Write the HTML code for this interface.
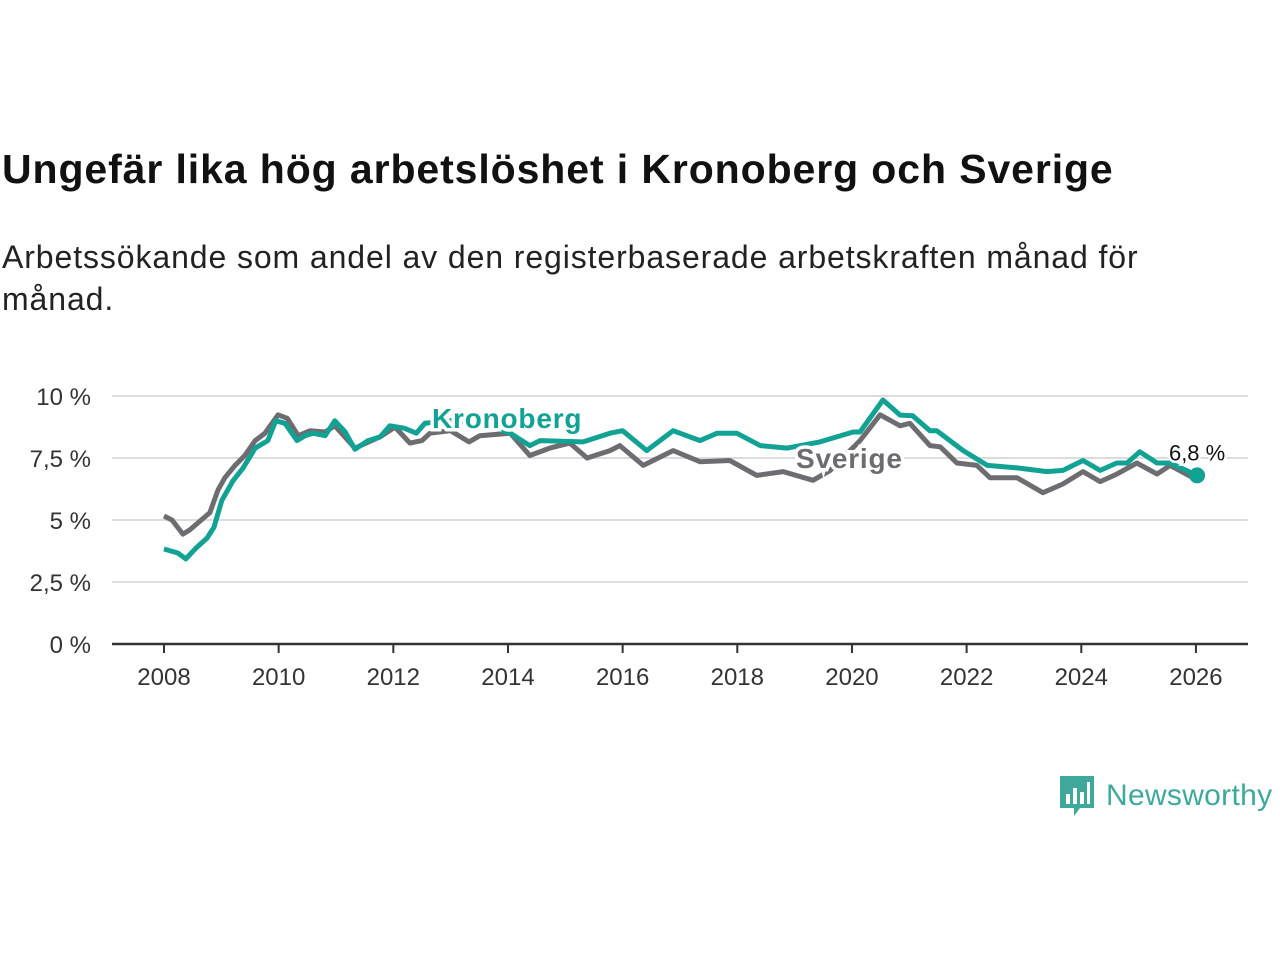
<!DOCTYPE html>
<html><head><meta charset="utf-8">
<style>
body{margin:0;width:1280px;height:960px;background:#fff;font-family:"Liberation Sans",sans-serif;overflow:hidden;position:relative}
#title{position:absolute;left:2px;top:146px;font-size:41px;font-weight:bold;color:#111;margin:0;letter-spacing:0.9px}
#sub{position:absolute;left:2px;top:236px;font-size:32px;color:#222;line-height:42px;width:1175px;letter-spacing:0.9px}
svg{position:absolute;left:0;top:0}
</style></head><body>
<h1 id="title">Ungefär lika hög arbetslöshet i Kronoberg och Sverige</h1>
<div id="sub">Arbetssökande som andel av den registerbaserade arbetskraften månad för månad.</div>
<svg id="chart" width="1280" height="960"></svg>
<div style="position:absolute;left:1060px;top:774px;display:flex;align-items:center">
<svg width="34" height="44" style="position:static"><path d="M0 2h34v32H20l-6 8v-8H0z" fill="#3ea89b"/><rect x="6" y="20" width="4" height="10" fill="#fff"/><rect x="13" y="14" width="4" height="16" fill="#fff"/><rect x="20" y="18" width="4" height="12" fill="#fff"/><rect x="27" y="8" width="3" height="22" fill="#fff"/></svg>
<span style="font-size:30px;color:#3ea89b;margin-left:12px;letter-spacing:0.3px">Newsworthy</span></div>
<script>
const yTicks=[0,2.5,5,7.5,10];
const yTickLabels=["0 %","2,5 %","5 %","7,5 %","10 %"];
const xTicks=[2008,2010,2012,2014,2016,2018,2020,2022,2024,2026];
const kronYears=[2008.0,2008.24,2008.38,2008.56,2008.75,2008.87,2009.01,2009.2,2009.38,2009.59,2009.81,2009.95,2010.11,2010.32,2010.46,2010.6,2010.81,2010.98,2011.16,2011.33,2011.56,2011.77,2011.94,2012.19,2012.4,2012.55,2013.0,2013.5,2014.04,2014.38,2014.56,2015.31,2015.78,2016.0,2016.42,2016.88,2017.35,2017.65,2017.99,2018.4,2018.87,2019.44,2020.02,2020.14,2020.54,2020.84,2021.06,2021.36,2021.48,2021.94,2022.36,2022.88,2023.4,2023.68,2024.03,2024.33,2024.62,2024.8,2025.02,2025.32,2025.55,2026.02];
const kronValues=[3.83,3.67,3.43,3.87,4.27,4.7,5.8,6.57,7.1,7.9,8.2,9.0,8.9,8.2,8.4,8.5,8.4,9.0,8.55,7.85,8.2,8.35,8.8,8.7,8.5,8.9,9.0,8.9,8.5,8.0,8.2,8.15,8.5,8.6,7.8,8.6,8.2,8.5,8.5,8.0,7.9,8.15,8.55,8.55,9.84,9.23,9.2,8.6,8.6,7.8,7.2,7.1,6.95,7.0,7.4,7.0,7.3,7.3,7.75,7.3,7.3,6.8];
const sveYears=[2008.0,2008.14,2008.33,2008.45,2008.63,2008.8,2008.94,2009.06,2009.24,2009.41,2009.59,2009.76,2009.99,2010.15,2010.34,2010.55,2010.81,2010.98,2011.33,2011.77,2012.03,2012.29,2012.5,2012.64,2013.0,2013.32,2013.51,2014.04,2014.38,2014.73,2015.08,2015.38,2015.78,2015.95,2016.36,2016.88,2017.35,2017.87,2018.34,2018.8,2019.32,2019.62,2020.14,2020.49,2020.84,2021.01,2021.36,2021.54,2021.83,2022.18,2022.41,2022.88,2023.33,2023.68,2024.03,2024.33,2024.62,2024.97,2025.32,2025.55,2025.95];
const sveValues=[5.16,5.0,4.43,4.6,4.96,5.3,6.2,6.7,7.2,7.6,8.2,8.5,9.24,9.1,8.4,8.6,8.55,8.8,7.9,8.35,8.75,8.1,8.2,8.5,8.6,8.15,8.4,8.5,7.6,7.9,8.1,7.5,7.8,8.0,7.2,7.8,7.35,7.4,6.8,6.95,6.6,7.0,8.2,9.24,8.8,8.9,8.0,7.95,7.3,7.2,6.7,6.7,6.1,6.45,6.95,6.55,6.85,7.3,6.85,7.2,6.7];
const NS="http://www.w3.org/2000/svg";
const svg=document.getElementById('chart');
const X=y=>164+(y-2008)*57.33;
const Y=v=>644-v*24.8;
function mk(t,a,txt){const e=document.createElementNS(NS,t);for(const k in a)e.setAttribute(k,a[k]);if(txt!==undefined)e.textContent=txt;svg.appendChild(e);return e;}
yTicks.forEach((t,i)=>{
 if(t>0){const g=mk('line',{x1:112,x2:1248,y1:Y(t),y2:Y(t),stroke:'#dcdcdc','stroke-width':2});
 
 }
 const l=mk('text',{x:91,y:Y(t)+9,'text-anchor':'end','font-size':24,fill:'#333'},yTickLabels[i]);
 
 
});
const ax=mk('line',{x1:112,x2:1248,y1:644,y2:644,stroke:'#333','stroke-width':2.5});


xTicks.forEach(t=>{
 const tk=mk('line',{x1:X(t),x2:X(t),y1:644,y2:653,stroke:'#333','stroke-width':2});
 
 
 const l=mk('text',{x:X(t),y:685,'text-anchor':'middle','font-size':24,fill:'#333'},String(t));
 
 
});
function path(xs,vs){return xs.map((x,i)=>(i?'L':'M')+X(x).toFixed(1)+' '+Y(vs[i]).toFixed(1)).join('');}
const sl=mk('path',{d:path(sveYears,sveValues),fill:'none',stroke:'#6d6d71','stroke-width':5,'stroke-linejoin':'round'});


const kl=mk('path',{d:path(kronYears,kronValues),fill:'none',stroke:'#11a294','stroke-width':5,'stroke-linejoin':'round'});


const kn=kronValues.length-1;
const dot=mk('circle',{cx:X(kronYears[kn]),cy:Y(kronValues[kn]),r:8,fill:'#11a294'});


const lv=mk('text',{x:X(kronYears[kn]),y:Y(kronValues[kn])-15,'text-anchor':'middle','font-size':22,fill:'#111',stroke:'#fff','stroke-width':5,'paint-order':'stroke'},'6,8 %');


const kt=mk('text',{x:432,y:428,'font-size':28,'font-weight':'bold',fill:'#11a294',stroke:'#fff','stroke-width':7,'paint-order':'stroke','letter-spacing':'0.8'},'Kronoberg');


const st=mk('text',{x:796,y:468,'font-size':28,'font-weight':'bold',fill:'#6d6d71',stroke:'#fff','stroke-width':7,'paint-order':'stroke','letter-spacing':'0.8'},'Sverige');


</script>
</body></html>
